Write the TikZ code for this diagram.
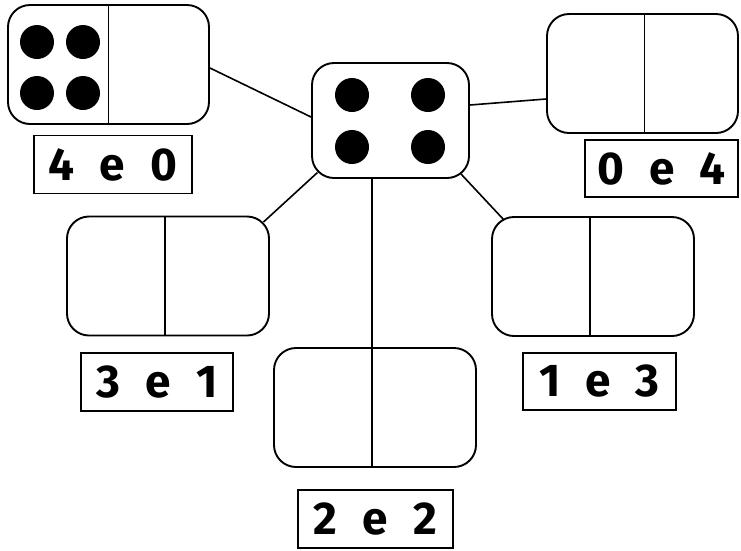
\documentclass[tikz,border=0pt]{standalone}
\usepackage{fontspec}
\usepackage{tikz}
\usetikzlibrary{calc}
\newfontfamily\pairfont[WordSpace=2.3]{Fira Sans}

\begin{document}
\begin{tikzpicture}[
  x=1pt, y=-1pt,
  domino/.style={rectangle, draw, line width=1.9pt, rounded corners=22pt,
                 minimum width=#1, minimum height=119pt, inner sep=0pt},
  domino/.default=202pt,
  pairbox/.style={rectangle, draw, line width=1.7pt, minimum height=58pt,
                  inner sep=0pt, font=\pairfont\bfseries\fontsize{46}{46}\selectfont},
  pip/.style={circle, fill=black, minimum size=34pt, inner sep=0pt},
  lnk/.style={line width=1.6pt}
]
\useasboundingbox (0,0) rectangle (741,550);

% === Central die ===
\node[domino=157pt, minimum height=115pt] (die) at (390.5, 120.5) {};
\node[pip] (diea) at (352, 95) {};
\node[pip] (dieb) at (428, 95) {};
\node[pip] (diec) at (352, 147) {};
\node[pip] (died) at (428, 147) {};

% === Dominoes ===
\node[domino=201pt] (dom40) at (108.5, 64.5) {};
\node[domino=191pt] (dom04) at (642.5, 73.5) {};
\node[domino] (dom31) at (168, 276) {};
\node[domino] (dom22) at (375, 407.5) {};
\node[domino] (dom13) at (593, 276.5) {};

\draw[line width=1.7pt] (dom40.north) -- (dom40.south);
\draw[line width=1.7pt] ($(dom04.north)+(2,0)$) -- ($(dom04.south)+(2,0)$);
\draw[line width=1.7pt] ($(dom31.north)+(-3,0)$) -- ($(dom31.south)+(-3,0)$);
\draw[line width=1.7pt] ($(dom22.north)+(-3,0)$) -- ($(dom22.south)+(-3,0)$);
\draw[line width=1.7pt] ($(dom13.north)+(-3,0)$) -- ($(dom13.south)+(-3,0)$);

\node[pip] (p40a) at (37, 42) {};
\node[pip] (p40b) at (83, 42) {};
\node[pip] (p40c) at (37, 93) {};
\node[pip] (p40d) at (83, 93) {};

% === Labels ===
\node[pairbox, minimum width=158pt] (lab40) at (113, 164.5) {4 e 0};
\node[pairbox, minimum width=153pt, minimum height=57pt] (lab04) at (661.5, 168.5) {0 e 4};
\node[pairbox, minimum width=152pt] (lab31) at (157, 382) {3 e 1};
\node[pairbox, minimum width=155pt] (lab22) at (375.5, 519) {2 e 2};
\node[pairbox, minimum width=153pt, minimum height=57pt] (lab13) at (599.5, 381.5) {1 e 3};

% === Connectors ===
\draw[lnk] ($(dom40.east)+(0,3.5)$) -- ($(die.west)+(0,-3.5)$);
\draw[lnk] ($(die.east)+(0,-15.5)$) -- ($(dom04.west)+(0,25.5)$);
\draw[lnk] ($(die.south west)+(6.4,-6.4)$) -- ($(dom31.north east)+(-6.4,6.4)$);
\draw[lnk] ($(die.south east)+(-9,-5)$) -- ($(dom13.north west)+(13,4)$);
\draw[lnk] ($(dom22.north)+(-3,0)$) -- ($(dom22.north |- die.south)+(-3,0)$);

\end{tikzpicture}
\end{document}
